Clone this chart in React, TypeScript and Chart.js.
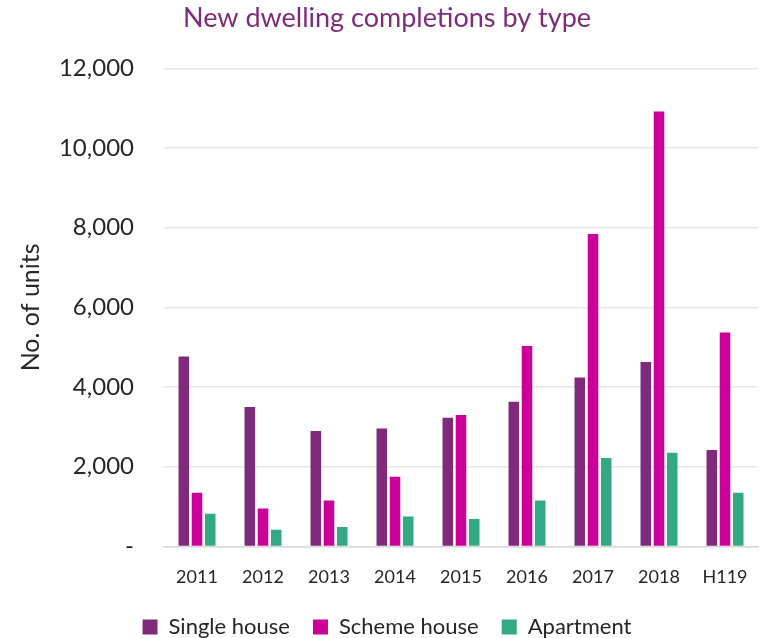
import React, { useEffect, useRef } from "react";
import { Chart, registerables } from "chart.js";

Chart.register(...registerables);

const categories = ["2011", "2012", "2013", "2014", "2015", "2016", "2017", "2018", "H119"];
const singleHouse = [4770, 3500, 2900, 2960, 3230, 3630, 4240, 4630, 2420];
const schemeHouse = [1350, 950, 1150, 1750, 3300, 5030, 7840, 10920, 5370];
const apartment = [820, 420, 490, 750, 690, 1150, 2220, 2350, 1350];
const seriesNames = ["Single house", "Scheme house", "Apartment"];
const seriesColors = ["#7F2A7A", "#CC0099", "#32A884"];
const titleText = "New dwelling completions by type";
const yAxisTitle = "No. of units";

export default function App() {
  const ref = useRef<HTMLCanvasElement>(null);
  useEffect(() => {
    document.body.style.margin = "0";
    const ctx = ref.current!;
    const font = "Lato";
    const chart = new Chart(ctx, {
      type: "bar",
      data: {
        labels: categories,
        datasets: [singleHouse, schemeHouse, apartment].map((d, i) => ({
          label: seriesNames[i],
          data: d,
          backgroundColor: seriesColors[i],
          borderWidth: 0,
          categoryPercentage: 0.6,
          barPercentage: 0.8,
        })),
      },
      options: {
        animation: false,
        responsive: false,
        maintainAspectRatio: false,
        layout: { padding: { left: 16, right: 4, top: 2, bottom: -10 } },
        plugins: {
          title: {
            display: true,
            text: titleText,
            color: "#7F2A7A",
            font: { family: font, size: 27, weight: "normal" },
            padding: { top: 0, bottom: 34 },
          },
          legend: {
            position: "bottom",
            labels: {
              color: "#262626",
              font: { family: font, size: 22 },
              boxWidth: 15,
              boxHeight: 15,
              padding: 23,
            },
          },
          tooltip: { enabled: false },
        },
        scales: {
          x: {
            grid: { display: false },
            border: { color: "#D9D9D9", width: 1.5 },
            ticks: { color: "#262626", font: { family: font, size: 18 }, padding: 12 },
            afterFit: (scale: any) => {
              scale.height -= 7;
            },
          },
          y: {
            min: 0,
            max: 12000,
            afterFit: (scale: any) => {
              scale.width = 148;
            },
            grid: { color: "#E6E6E6", lineWidth: 1.5, drawTicks: false },
            border: { display: false },
            ticks: {
              stepSize: 2000,
              color: "#262626",
              font: { family: font, size: 24 },
              padding: 30,
              callback: (v: any) => (Number(v) === 0 ? "-" : Number(v).toLocaleString("en-US")),
            },
            title: {
              display: true,
              text: yAxisTitle,
              color: "#262626",
              font: { family: font, size: 25 },
              padding: { top: 0, bottom: 4 },
            },
          },
        },
      },
    });
    return () => chart.destroy();
  }, []);
  return (
    <div style={{ position: "absolute", left: 0, top: 0, width: 762, height: 638, background: "#fff" }}>
      <canvas ref={ref} width={762} height={638} style={{ width: 762, height: 638 }} />
    </div>
  );
}
